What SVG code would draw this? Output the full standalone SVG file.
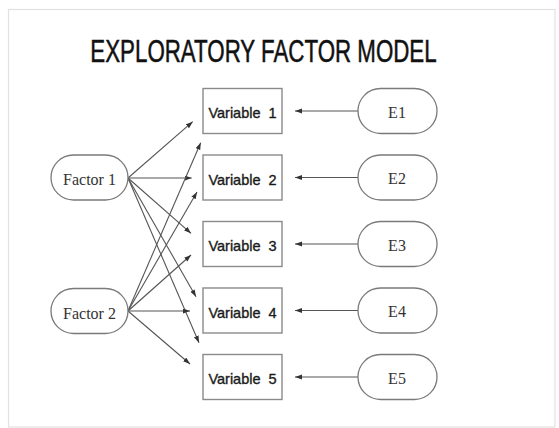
<svg xmlns="http://www.w3.org/2000/svg" width="559" height="428" viewBox="0 0 559 428">
<style>
.frame{fill:#fff;stroke:#e2e2e2;stroke-width:1.2}
.box{fill:#fff;stroke:#8a8a8a;stroke-width:1.4}
.oval{fill:#fff;stroke:#7a7a7a;stroke-width:1.3}
.vt{font-family:"Liberation Sans",Arial,sans-serif;font-size:14.5px;fill:#1a1a1a;stroke:#1a1a1a;stroke-width:0.35;text-anchor:middle;word-spacing:4px}
.st{font-family:"Liberation Serif","Times New Roman",serif;font-size:16px;fill:#333;text-anchor:middle}
.title{font-family:"Liberation Sans",Arial,sans-serif;font-size:31px;fill:#111;stroke:#111;stroke-width:0.5;text-anchor:middle}
.c{stroke:#555;stroke-width:1.1;fill:none;marker-end:url(#ah)}
</style>
<defs>
<marker id="ah" markerUnits="userSpaceOnUse" markerWidth="8" markerHeight="6" refX="7" refY="2.5" orient="auto">
<path d="M0,0 L7,2.5 L0,5 z" fill="#333"/>
</marker>
</defs>
<rect class="frame" x="8.5" y="9.5" width="546.5" height="417.5"/>
<text class="title" transform="translate(263.5,62) scale(0.72,1)" x="0" y="0">EXPLORATORY FACTOR MODEL</text>
<g id="connectors">
<line class="c" x1="128" y1="178" x2="192.7" y2="121.7"/>
<line class="c" x1="128" y1="178" x2="191.7" y2="178"/>
<line class="c" x1="128" y1="178" x2="191" y2="233.3"/>
<line class="c" x1="128" y1="178" x2="196" y2="296.7"/>
<line class="c" x1="128" y1="178" x2="199" y2="342.7"/>
<line class="c" x1="128" y1="311" x2="200.7" y2="142.7"/>
<line class="c" x1="128" y1="311" x2="197" y2="192"/>
<line class="c" x1="128" y1="311" x2="191" y2="255"/>
<line class="c" x1="128" y1="311" x2="190" y2="311"/>
<line class="c" x1="128" y1="311" x2="190" y2="364"/>
<line class="c" x1="358" y1="111" x2="295" y2="111"/>
<line class="c" x1="358" y1="177.5" x2="295" y2="177.5"/>
<line class="c" x1="358" y1="244" x2="295" y2="244"/>
<line class="c" x1="358" y1="310.5" x2="295" y2="310.5"/>
<line class="c" x1="358" y1="377" x2="295" y2="377"/>
</g>
<g id="factor1"><rect class="oval" x="51" y="155" width="77" height="45" rx="22.5"/><text class="st" x="89.5" y="185">Factor 1</text></g>
<g id="factor2"><rect class="oval" x="51" y="288.5" width="77" height="45" rx="22.5"/><text class="st" x="89.5" y="318.5">Factor 2</text></g>
<g id="var1"><rect class="box" x="203" y="88.5" width="79" height="45"/><text class="vt" x="242.5" y="118.3">Variable 1</text></g>
<g id="var2"><rect class="box" x="203" y="155" width="79" height="45"/><text class="vt" x="242.5" y="184.8">Variable 2</text></g>
<g id="var3"><rect class="box" x="203" y="221.5" width="79" height="45"/><text class="vt" x="242.5" y="251.3">Variable 3</text></g>
<g id="var4"><rect class="box" x="203" y="288" width="79" height="45"/><text class="vt" x="242.5" y="317.8">Variable 4</text></g>
<g id="var5"><rect class="box" x="203" y="354.5" width="79" height="45"/><text class="vt" x="242.5" y="384.3">Variable 5</text></g>
<g id="e1"><rect class="oval" x="358" y="88.5" width="79" height="45" rx="22.5"/><text class="st" x="397" y="117.5">E1</text></g>
<g id="e2"><rect class="oval" x="358" y="155" width="79" height="45" rx="22.5"/><text class="st" x="397" y="184">E2</text></g>
<g id="e3"><rect class="oval" x="358" y="221.5" width="79" height="45" rx="22.5"/><text class="st" x="397" y="250.5">E3</text></g>
<g id="e4"><rect class="oval" x="358" y="288" width="79" height="45" rx="22.5"/><text class="st" x="397" y="317">E4</text></g>
<g id="e5"><rect class="oval" x="358" y="354.5" width="79" height="45" rx="22.5"/><text class="st" x="397" y="383.5">E5</text></g>
</svg>
